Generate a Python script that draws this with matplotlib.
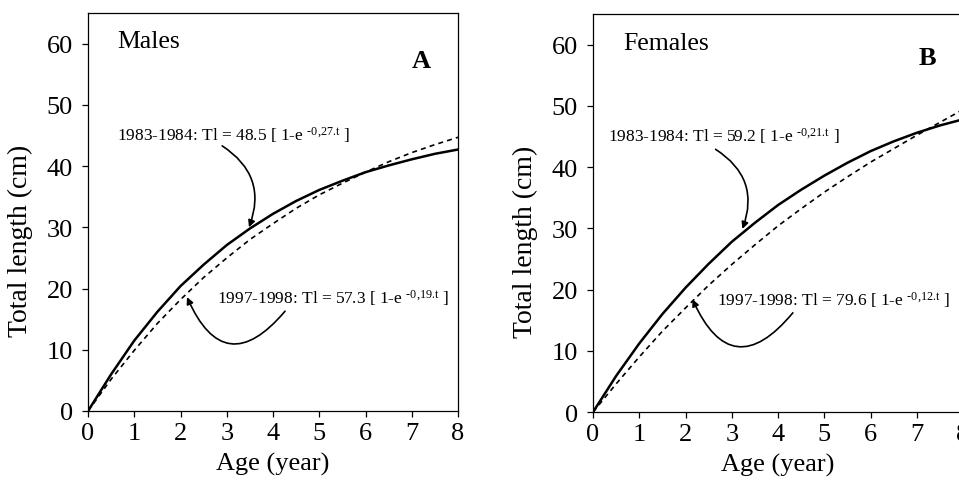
import numpy as np
import matplotlib.pyplot as plt

plt.rcParams['font.family'] = ['Liberation Serif', 'DejaVu Serif']
plt.rcParams['mathtext.fontset'] = 'custom'
plt.rcParams['mathtext.rm'] = 'Liberation Serif'
plt.rcParams['mathtext.it'] = 'Liberation Serif:italic'

# values, every half year
age = [0, 0.5, 1, 1.5, 2, 2.5, 3, 3.5, 4, 4.5, 5, 5.5, 6, 6.5, 7, 7.5, 8]
males_1983 = [0, 6.0, 11.5, 16.2, 20.4, 23.9, 27.1, 29.8, 32.2, 34.3, 36.1,
              37.6, 39.0, 40.1, 41.1, 42.0, 42.7]
males_1997 = [0, 5.2, 9.9, 14.3, 18.2, 21.8, 25.0, 28.0, 30.6, 33.1, 35.3,
              37.2, 39.0, 40.7, 42.2, 43.5, 44.7]
females_1983 = [0, 5.9, 11.2, 16.0, 20.3, 24.2, 27.8, 30.9, 33.8, 36.3, 38.6,
                40.7, 42.6, 44.2, 45.6, 46.8, 47.8]
females_1997 = [0, 4.6, 9.0, 13.2, 17.0, 20.7, 24.1, 27.3, 30.4, 33.2, 35.9,
                38.4, 40.8, 43.0, 45.2, 47.3, 49.4]

panels = [
    dict(title='Males', letter='A', solid=males_1983, dashed=males_1997,
         eq1=r'1983-1984: Tl = 48.5 [ 1-e $^{\text{-0,27.t}}$ ]',
         eq2=r'1997-1998: Tl = 57.3 [ 1-e $^{\text{-0,19.t}}$ ]',
         pos=[0.0918, 0.1575, 0.3858, 0.8139],
         t1=(0.63, 45.3), a1=((2.9, 43.3), (3.48, 30.0)),
         t2=(2.79, 18.6), a2=((4.26, 16.3), (2.14, 18.6)),
         tpos=(0.63, 60.5), lpos=(7.2, 57.2)),
    dict(title='Females', letter='B', solid=females_1983, dashed=females_1997,
         eq1=r'1983-1984: Tl = 59.2 [ 1-e $^{\text{-0,21.t}}$ ]',
         eq2=r'1997-1998: Tl = 79.6 [ 1-e $^{\text{-0,12.t}}$ ]',
         pos=[0.6184, 0.1554, 0.3858, 0.8139],
         t1=(0.33, 45.3), a1=((2.65, 42.9), (3.23, 29.9)),
         t2=(2.69, 18.4), a2=((4.32, 16.2), (2.15, 18.4)),
         tpos=(0.65, 60.3), lpos=(7.22, 57.9)),
]

fig = plt.figure(figsize=(9.59, 4.89), dpi=100)

for p in panels:
    ax = fig.add_axes(p['pos'])
    ax.plot(age, p['solid'], color='black', lw=1.8)
    ax.plot(age, p['dashed'], color='black', lw=1.2, ls=(0, (3, 2.5)))

    ax.set_xlim(0, 8)
    ax.set_ylim(0, 65)
    ax.set_xticks(np.arange(0, 9, 1))
    ax.set_yticks(np.arange(0, 61, 10))
    ax.tick_params(direction='out', length=4, width=0.9, labelsize=19)
    ax.tick_params(axis='y', pad=7)
    ax.tick_params(axis='x', pad=4)
    for s in ax.spines.values():
        s.set_linewidth(0.9)

    ax.set_xlabel('Age (year)', fontsize=19)
    ax.set_ylabel('Total length (cm)', fontsize=20)
    ax.xaxis.set_label_coords(0.5, -0.103)
    ax.yaxis.set_label_coords(-0.149, 0.43)

    ax.text(*p['tpos'], p['title'], fontsize=18.5, ha='left', va='center')
    ax.text(*p['lpos'], p['letter'], fontsize=19, fontweight='bold',
            ha='center', va='center')

    ax.text(*p['t1'], p['eq1'], fontsize=12.5, ha='left', va='center')
    ax.text(*p['t2'], p['eq2'], fontsize=12.5, ha='left', va='center')

    ax.annotate('', xy=p['a1'][1], xytext=p['a1'][0],
                arrowprops=dict(arrowstyle='-|>', color='black', lw=1.2,
                                mutation_scale=10, shrinkA=0, shrinkB=0,
                                connectionstyle='arc3,rad=-0.4'))
    ax.annotate('', xy=p['a2'][1], xytext=p['a2'][0],
                arrowprops=dict(arrowstyle='-|>', color='black', lw=1.2,
                                mutation_scale=10, shrinkA=0, shrinkB=0,
                                connectionstyle='arc3,rad=-0.8'))

fig.savefig('out.png', dpi=100)
